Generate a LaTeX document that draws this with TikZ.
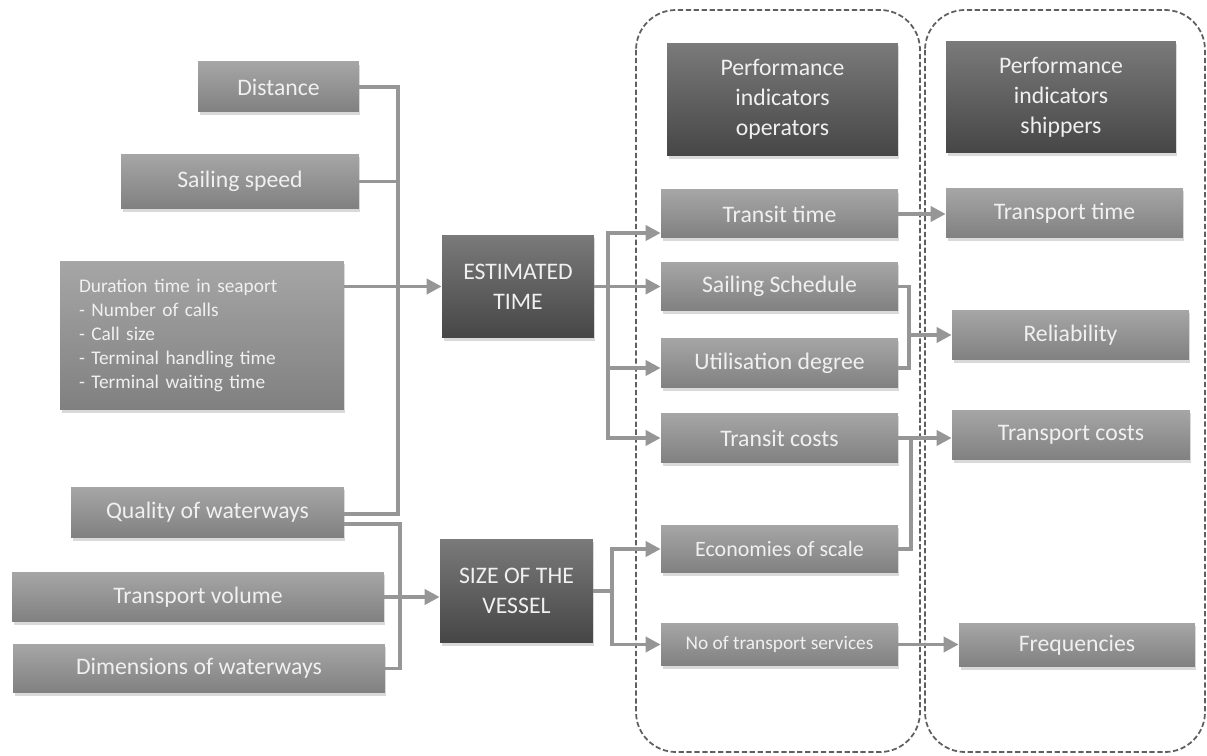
\documentclass[tikz,border=0pt]{standalone}
\usepackage{fontspec}
\setmainfont{Carlito}
\usepackage{tikz}
\usetikzlibrary{shadows,arrows.meta}
\definecolor{boxlight}{RGB}{166,166,166}
\definecolor{boxmid}{RGB}{128,128,128}
\definecolor{boxdark}{RGB}{122,122,122}
\definecolor{boxdeep}{RGB}{70,70,70}
\definecolor{wire}{RGB}{150,150,150}
\definecolor{frame}{RGB}{95,95,95}
\definecolor{label}{RGB}{240,240,240}

\begin{document}
\begin{tikzpicture}[x=0.02cm, y=-0.02cm]
% Configuration
\tikzset{
  factor/.style={rectangle, top color=boxlight, bottom color=boxmid, text=label,
    font=\fontsize{13.5}{17}\selectfont, align=center, inner sep=0pt,
    drop shadow={shadow xshift=0.03cm, shadow yshift=-0.06cm, opacity=0.3}},
  keybox/.style={factor, top color=boxdark, bottom color=boxdeep},
  link/.style={draw=wire, line width=2.1pt},
  feed/.style={link, -{Triangle[length=0.3cm, width=0.3cm]}},
  group/.style={draw=frame, line width=1pt, rounded corners=0.8cm, dash pattern=on 3pt off 1.5pt},
}
\useasboundingbox (0,0) rectangle (1207,756);

% Groups
\draw[group] (636,10) rectangle (920,752);
\draw[group] (925,10) rectangle (1205,752);

% Factors
\node[factor, minimum width=3.22cm, minimum height=1cm] (dist) at (278.5,87) {Distance};
\node[factor, minimum width=4.76cm, minimum height=1.1cm] (speed) at (240,181.5) {Sailing speed};
\node[factor, minimum width=5.68cm, minimum height=2.98cm, align=left, text width=4.92cm,
  font=\fontsize{11}{13.7}\selectfont] (port) at (202,335.5)
  {Duration time in seaport\\- Number of calls\\- Call size\\- Terminal handling time\\- Terminal waiting time};
\node[factor, minimum width=5.46cm, minimum height=1.02cm] (qual) at (207.5,512.5) {Quality of waterways};
\node[factor, minimum width=7.44cm, minimum height=1cm] (vol) at (198,597) {Transport volume};
\node[factor, minimum width=7.44cm, minimum height=0.98cm] (dim) at (199,668.5) {Dimensions of waterways};

% Key variables
\node[keybox, minimum width=3.04cm, minimum height=2.06cm] (est) at (518,286.5) {ESTIMATED\\TIME};
\node[keybox, minimum width=3.06cm, minimum height=2.08cm] (size) at (516.5,591) {SIZE OF THE\\VESSEL};

% Operators
\node[keybox, minimum width=4.62cm, minimum height=2.26cm] (op) at (782.5,99.5) {Performance\\indicators\\operators};
\node[factor, minimum width=4.74cm, minimum height=0.96cm] (transit) at (779.5,214) {Transit time};
\node[factor, minimum width=4.74cm, minimum height=0.98cm] (sched) at (779.5,286.5) {Sailing Schedule};
\node[factor, minimum width=4.74cm, minimum height=1cm] (util) at (779.5,363) {Utilisation degree};
\node[factor, minimum width=4.74cm, minimum height=1cm] (tcost) at (779.5,438) {Transit costs};
\node[factor, minimum width=4.74cm, minimum height=0.96cm, font=\fontsize{12.5}{15}\selectfont] (scale) at (779.5,549) {Economies of scale};
\node[factor, minimum width=4.74cm, minimum height=0.86cm, font=\fontsize{11}{13}\selectfont] (serv) at (779.5,644.5) {No of transport services};

% Shippers
\node[keybox, minimum width=4.6cm, minimum height=2.24cm] (ship) at (1061,97) {Performance\\indicators\\shippers};
\node[factor, minimum width=4.74cm, minimum height=1cm] (ttime) at (1064.5,213) {Transport time};
\node[factor, minimum width=4.74cm, minimum height=1cm] (rel) at (1070.5,335) {Reliability};
\node[factor, minimum width=4.76cm, minimum height=1cm] (pcost) at (1071,435) {Transport costs};
\node[factor, minimum width=4.72cm, minimum height=0.88cm] (freq) at (1077,645) {Frequencies};

% Connections
\coordinate (bus1) at (398,514);
\coordinate (bus2) at (400,524);
\coordinate (bus3) at (608,233);
\coordinate (bus4) at (612,591);
\coordinate (bus5) at (909,335);
\coordinate (bus6) at (911,438);
\draw[link] (dist.east) -| (bus1) -- (qual.east |- bus1);
\draw[link] (speed.east) -- (speed.east -| bus1);
\draw[feed] (port.east |- est.west) -- (est.west);
\draw[link] (qual.east |- bus2) -- (bus2) |- (dim.east);
\draw[feed] (vol.east) -- (vol.east -| size.west);
\draw[link] (est.east) -- (est.east -| bus3);
\draw[feed] (est.east -| bus3) |- (bus3 -| transit.west);
\draw[feed] (est.east) -- (sched.west);
\draw[feed] (est.east -| bus3) |- ([yshift=-0.1cm]util.west);
\draw[feed] (est.east -| bus3) |- (tcost.west);
\draw[link] (size.east) -- (bus4);
\draw[feed] (bus4) |- (scale.west);
\draw[feed] (bus4) |- (serv.west);
\draw[feed] (transit.east) -- (transit.east -| ttime.west);
\draw[link] (sched.east) -| (bus5) |- ([yshift=-0.1cm]util.east);
\draw[feed] (bus5) -- (rel.west);
\draw[feed] (tcost.east) -- (tcost.east -| pcost.west);
\draw[link] (scale.east) -| (bus6);
\draw[feed] (serv.east) -- (serv.east -| freq.west);
\end{tikzpicture}
\end{document}
